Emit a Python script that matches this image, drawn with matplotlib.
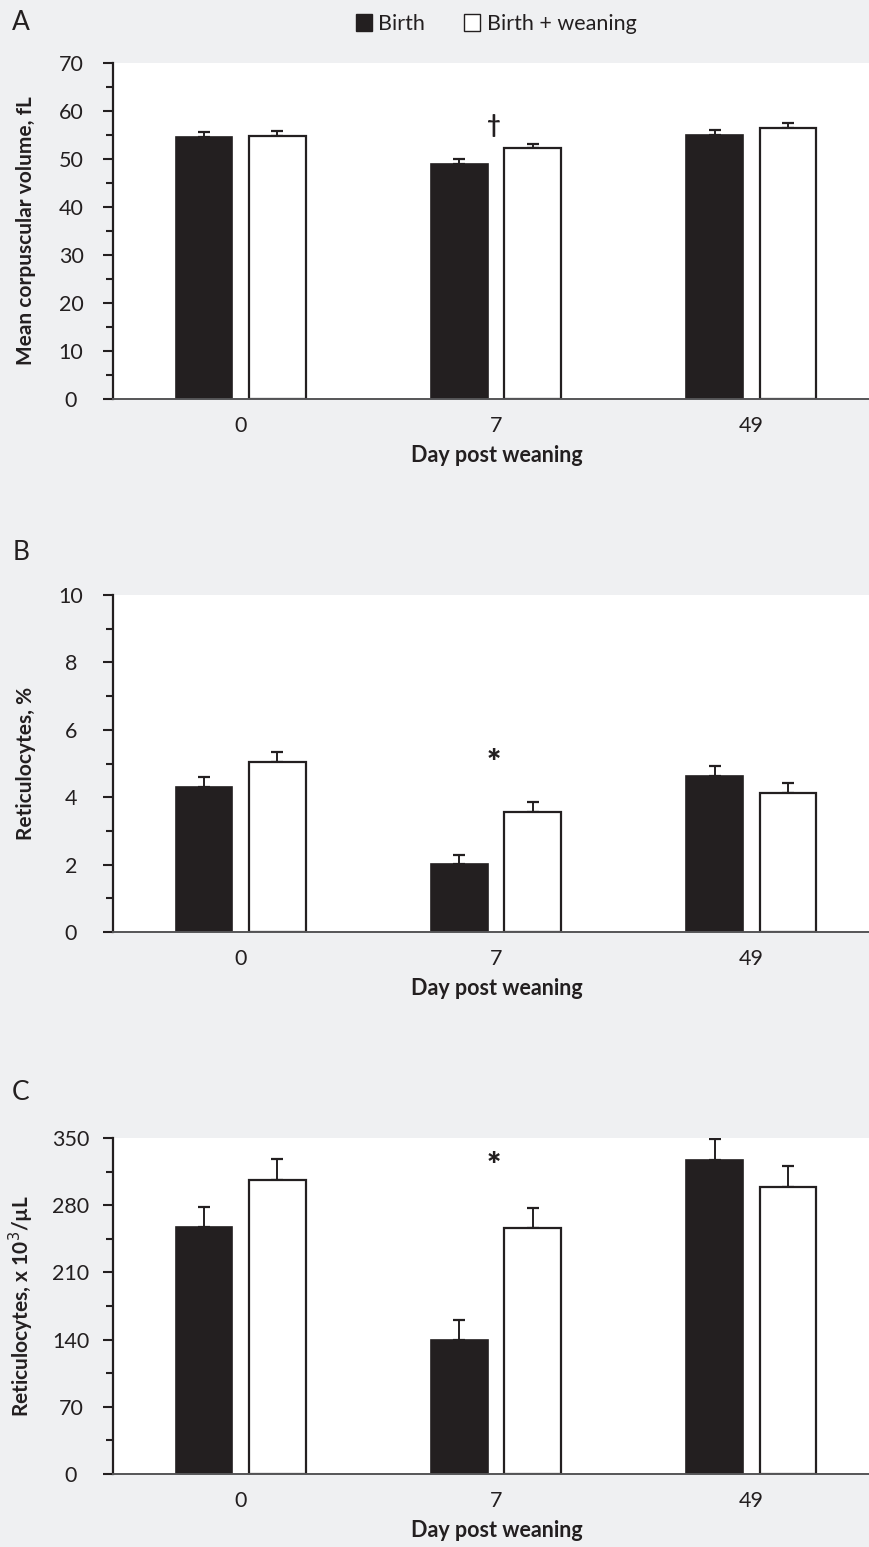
import matplotlib
matplotlib.use("Agg")
import matplotlib.pyplot as plt
from matplotlib.patches import Patch
import numpy as np

plt.rcParams['font.family'] = ['Lato', 'DejaVu Sans']

# ---- data ----
days = ["0", "7", "49"]
series = ["Birth", "Birth + weaning"]

mcv_birth = [54.6, 49.0, 55.1]
mcv_birth_se = [1.0, 1.1, 0.9]
mcv_wean = [54.7, 52.3, 56.5]
mcv_wean_se = [1.1, 0.9, 0.9]

retp_birth = [4.30, 2.02, 4.63]
retp_birth_se = [0.30, 0.27, 0.30]
retp_wean = [5.05, 3.56, 4.12]
retp_wean_se = [0.30, 0.30, 0.30]

reta_birth = [257, 140, 327]
reta_birth_se = [21, 20, 22]
reta_wean = [306, 256, 299]
reta_wean_se = [22, 21, 22]

panel_letters = ["A", "B", "C"]
ylabels = ["Mean corpuscular volume, fL", "Reticulocytes, %",
           "Reticulocytes, x 10$^3$/\u00b5L"]
ymax = [70, 10, 350]
ystep = [10, 2, 70]
marks = ["\u2020", "*", "*"]
mark_y = [57.0, 5.0, 320]

BLACK = "#231f20"
BG = "#eff0f2"
W, H = 870, 1547

fig = plt.figure(figsize=(W / 100, H / 100), dpi=100, facecolor=BG)

# axes boxes in pixels: (top, bottom)
boxes = [(63, 399), (595, 932), (1138, 1474)]
left_px = 113

data = [
    (mcv_birth, mcv_birth_se, mcv_wean, mcv_wean_se),
    (retp_birth, retp_birth_se, retp_wean, retp_wean_se),
    (reta_birth, reta_birth_se, reta_wean, reta_wean_se),
]
letter_y = [23, 552, 1092]

x = np.arange(len(days))
off = 0.144
bw = 0.222

for i, (top, bot) in enumerate(boxes):
    ax = fig.add_axes([left_px / W, 1 - bot / H, (W - left_px) / W, (bot - top) / H])
    ax.set_facecolor("white")
    b, bse, w, wse = data[i]
    ax.bar(x - off, b, bw, color=BLACK, edgecolor=BLACK, linewidth=1.2, zorder=2)
    ax.bar(x + off, w, bw, color="white", edgecolor=BLACK, linewidth=1.6, zorder=2)
    ax.errorbar(x - off, b, yerr=[np.zeros(3), bse], fmt="none", ecolor=BLACK,
                elinewidth=1.4, capsize=4, capthick=1.6, zorder=1)
    ax.errorbar(x + off, w, yerr=[np.zeros(3), wse], fmt="none", ecolor=BLACK,
                elinewidth=1.4, capsize=4, capthick=1.6, zorder=1)
    ax.set_xlim(-0.5, 2.465)
    ax.set_ylim(0, ymax[i])
    ax.set_yticks(np.arange(0, ymax[i] + 1e-9, ystep[i]))
    ax.set_yticks(np.arange(ystep[i] / 2, ymax[i], ystep[i]), minor=True)
    ax.set_xticks(x)
    ax.set_xticklabels(days)
    for s in ["top", "right"]:
        ax.spines[s].set_visible(False)
    ax.spines["left"].set_color(BLACK)
    ax.spines["left"].set_linewidth(1.6)
    ax.spines["bottom"].set_color("#555557")
    ax.spines["bottom"].set_linewidth(1.4)
    ax.spines["bottom"].set_zorder(3)
    ax.tick_params(axis="y", which="major", length=7.2, width=1.5, color=BLACK,
                   labelsize=15.5, labelcolor=BLACK, pad=23)
    ax.tick_params(axis="y", which="minor", length=5, width=1.5, color=BLACK)
    ax.tick_params(axis="x", length=0, labelsize=15.5, labelcolor=BLACK, pad=12)
    plt.setp(ax.get_yticklabels(), ha="center")
    ax.set_ylabel(ylabels[i], fontsize=15, fontweight="bold", color=BLACK)
    ax.yaxis.set_label_coords((36 - left_px) / (W - left_px), 0.5)
    ax.set_xlabel("Day post weaning", fontsize=15.5, fontweight="bold", color=BLACK,
                  va="top")
    ax.xaxis.set_label_coords((497 - left_px) / (W - left_px), -46 / (bot - top))
    if marks[i] == "*":
        ax.text(0.99, mark_y[i], marks[i], ha="center", va="center", fontsize=24,
                fontweight="heavy", color=BLACK)
    else:
        ax.text(0.99, mark_y[i], marks[i], ha="center", va="center", fontsize=17,
                fontweight="bold", color=BLACK)
    fig.text(21 / W, 1 - letter_y[i] / H, panel_letters[i], ha="center", va="center",
             fontsize=19, color=BLACK, fontweight="normal")

handles = [Patch(facecolor=BLACK, edgecolor=BLACK, linewidth=1.0),
           Patch(facecolor="white", edgecolor=BLACK, linewidth=1.0)]
fig.legend(handles, series, loc="center", bbox_to_anchor=(496 / W, 1 - 24 / H),
           ncol=2, frameon=False, fontsize=15.5, handlelength=0.75, handleheight=0.8,
           handletextpad=0.3, columnspacing=1.8, labelcolor=BLACK)

fig.savefig("out.png", dpi=100, facecolor=BG)
